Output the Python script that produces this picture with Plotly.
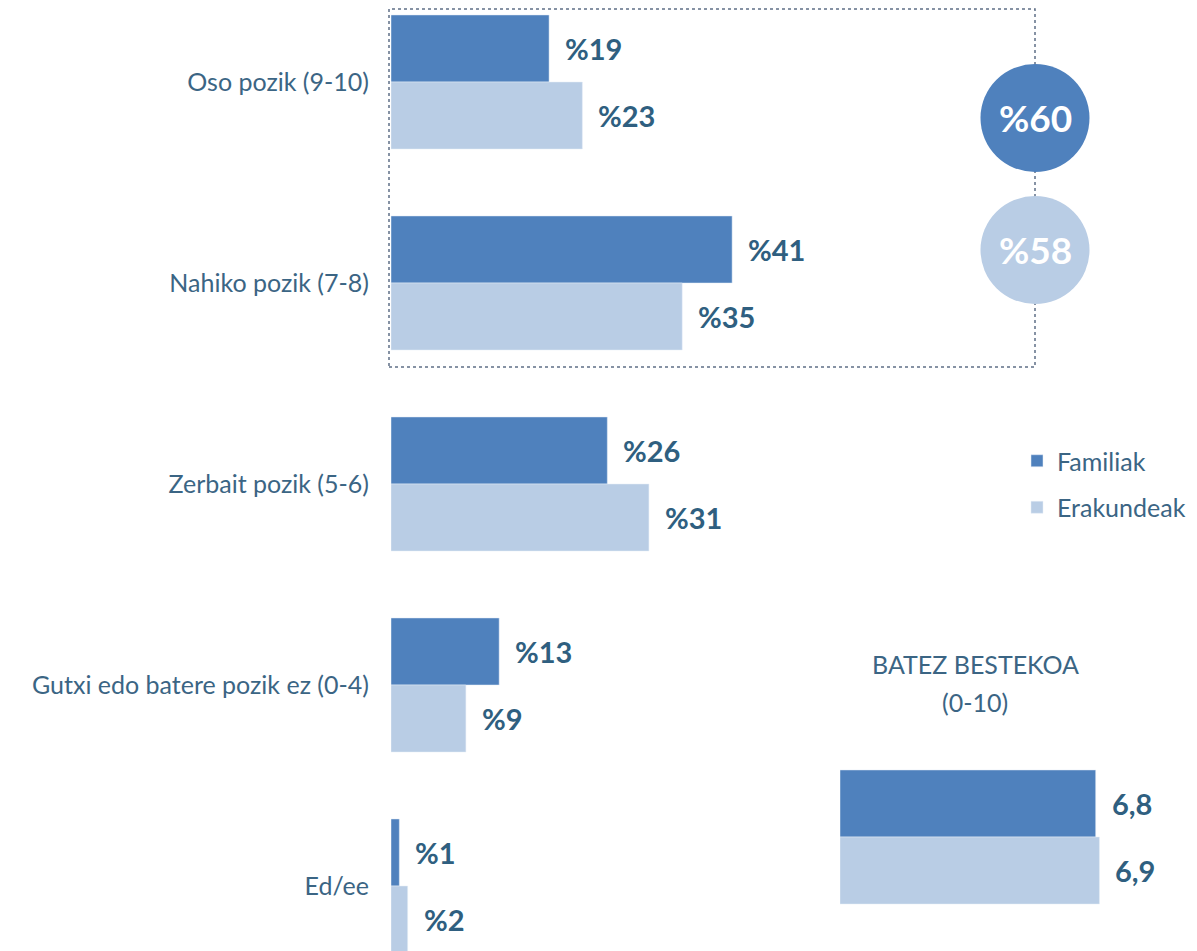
import plotly.graph_objects as go

categories = ["Oso pozik (9-10)", "Nahiko pozik (7-8)", "Zerbait pozik (5-6)",
              "Gutxi edo batere pozik ez (0-4)", "Ed/ee"]
familiak = [19, 41, 26, 13, 1]
erakundeak = [23, 35, 31, 9, 2]
series_names = ["Familiak", "Erakundeak"]
avg_familiak = 6.8
avg_erakundeak = 6.9
top_two_familiak = 60
top_two_erakundeak = 58
avg_title_lines = ["BATEZ BESTEKOA", "(0-10)"]

DARK = "#4f81bd"
LIGHT = "#b9cde5"
TXT = "#3b6584"
VAL = "#2f5f80"
FONT = "Lato"

W, H = 1197, 951
OFF = 8  # page body margin
def px(x):
    return (x - OFF) / W
def py(y):
    return 1 - (y - OFF) / H

fig = go.Figure()
idx = list(range(len(categories)))
fig.add_trace(go.Bar(y=idx, x=familiak, orientation="h", name=series_names[0],
                     marker_color=DARK, xaxis="x", yaxis="y", legendgroup="a"))
fig.add_trace(go.Bar(y=idx, x=erakundeak, orientation="h", name=series_names[1],
                     marker_color=LIGHT, xaxis="x", yaxis="y", legendgroup="b"))
fig.add_trace(go.Bar(y=[0], x=[avg_familiak], orientation="h", name=series_names[0],
                     marker_color=DARK, xaxis="x2", yaxis="y2", showlegend=False))
fig.add_trace(go.Bar(y=[0], x=[avg_erakundeak], orientation="h", name=series_names[1],
                     marker_color=LIGHT, xaxis="x2", yaxis="y2", showlegend=False))

annotations = []
for i, (f, e) in enumerate(zip(familiak, erakundeak)):
    for v, shift in ((f, 33.5), (e, -33.5)):
        annotations.append(dict(x=v, y=i, xref="x", yref="y", text=f"%{v}",
                                showarrow=False, xanchor="left", yanchor="middle",
                                xshift=14, yshift=shift,
                                font=dict(family=FONT, size=29, color=VAL, weight="bold")))
for v, shift in ((avg_familiak, 33.5), (avg_erakundeak, -33.5)):
    annotations.append(dict(x=v, y=0, xref="x2", yref="y2",
                            text=f"{v:.1f}".replace(".", ","),
                            showarrow=False, xanchor="left", yanchor="middle",
                            xshift=14, yshift=shift,
                            font=dict(family=FONT, size=29, color=VAL, weight="bold")))
for line, cy in zip(avg_title_lines, (664, 702)):
    annotations.append(dict(x=px(975), y=py(cy), xref="paper", yref="paper", text=line,
                            showarrow=False, xanchor="center", yanchor="middle",
                            font=dict(family=FONT, size=25, color=TXT)))
for val, cy in ((top_two_familiak, 118), (top_two_erakundeak, 250)):
    annotations.append(dict(x=px(1035), y=py(cy), xref="paper", yref="paper", text=f"%{val}",
                            showarrow=False, xanchor="center", yanchor="middle",
                            font=dict(family=FONT, size=37, color="white", weight="bold")))

shapes = [dict(type="rect", xref="paper", yref="paper", x0=px(389), x1=px(1035),
               y0=py(367), y1=py(9), line=dict(color="#5f6f86", width=1.5, dash="dot"),
               layer="above")]
for col, cy in ((DARK, 118), (LIGHT, 250)):
    shapes.append(dict(type="circle", xref="paper", yref="paper",
                       xsizemode="pixel", ysizemode="pixel",
                       xanchor=px(1035), yanchor=py(cy),
                       x0=-54.5, x1=54.5, y0=-54, y1=54,
                       fillcolor=col, line=dict(width=0), layer="above"))

fig.update_layout(
    width=W, height=H,
    margin=dict(l=0, r=0, t=0, b=0),
    paper_bgcolor="white", plot_bgcolor="rgba(0,0,0,0)",
    barmode="group", bargap=0.333, bargroupgap=0,
    showlegend=True,
    legend=dict(x=px(1017), y=py(438), xanchor="left", yanchor="top",
                font=dict(family=FONT, size=25, color=TXT),
                bgcolor="rgba(0,0,0,0)", tracegroupgap=11,
                traceorder="grouped", itemwidth=30),
    xaxis=dict(domain=[px(391), px(1035)], range=[0, 644 / 8.32],
               visible=False, fixedrange=True),
    yaxis=dict(domain=[0, 1], range=[(H - (82 - OFF)) / 201, -(82 - OFF) / 201],
               tickmode="array", tickvals=idx, ticktext=categories,
               showgrid=False, zeroline=False, showline=False, ticks="",
               ticklabelstandoff=21,
               tickfont=dict(family=FONT, size=25, color=TXT)),
    xaxis2=dict(domain=[px(840), 1], range=[0, (W + OFF - 840) / 37.6], anchor="y2",
                visible=False),
    yaxis2=dict(domain=[py(937.5), py(736.5)], range=[0.5, -0.5], anchor="x2",
                visible=False),
    annotations=annotations, shapes=shapes,
)

fig.write_html("out.html")
